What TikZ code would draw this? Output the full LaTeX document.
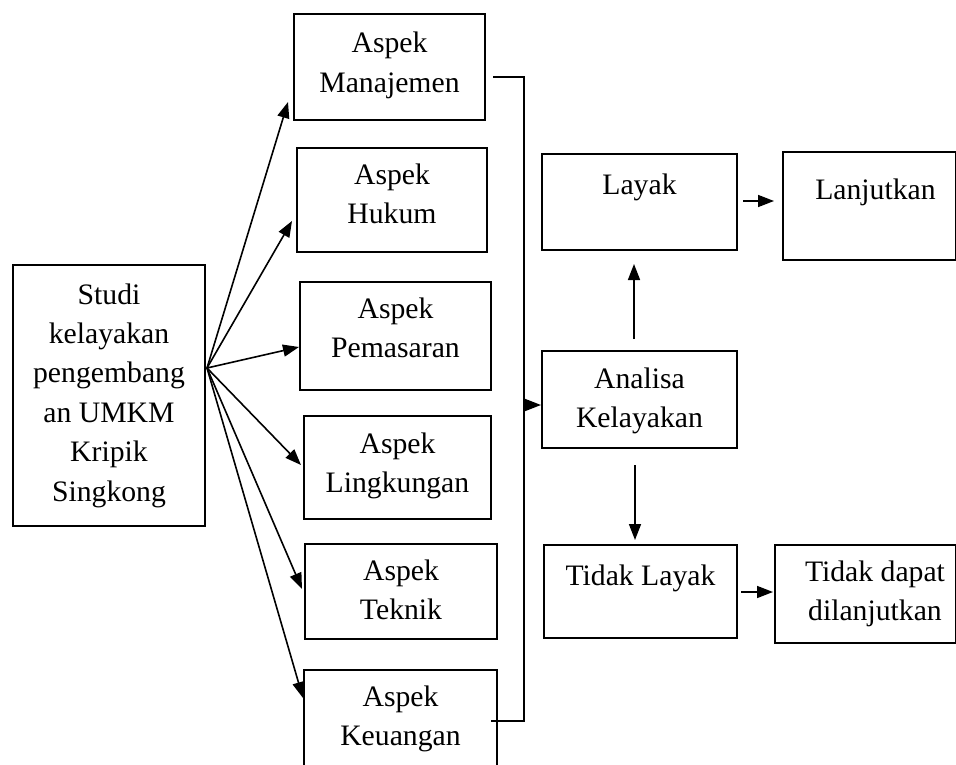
\documentclass[tikz,border=0pt]{standalone}
\usepackage{fontspec}
\setmainfont{Liberation Serif}
\usetikzlibrary{arrows.meta,calc}
\begin{document}
\begin{tikzpicture}[x=1pt,y=-1pt,
  box/.style={draw, line width=2pt, inner sep=0pt, anchor=north west, align=flush center,
    font=\fontsize{29.7}{39.4}\selectfont},
  conn/.style={line width=1.6pt},
  arr/.style={conn, -{Triangle[length=16pt,width=12pt]}},
  ]
\useasboundingbox (0,0) rectangle (956,765);
% boxes
\node[box, text width=192pt, text height=39pt, text depth=222pt] (st) at (12,264)
  {Studi\\kelayakan\\pengembang\\an UMKM\\Kripik\\Singkong};
\node[box, text width=191pt, text height=39pt, text depth=67pt] (man) at (293,13) {Aspek\\Manajemen};
\node[box, text width=190pt, text height=36pt, text depth=68pt] (huk) at (296,147) {Aspek\\Hukum};
\node[box, text width=191pt, text height=36pt, text depth=72pt] (pem) at (299,281) {Aspek\\Pemasaran};
\node[box, text width=187pt, text height=37pt, text depth=66pt] (lin) at (303,415) {Aspek\\Lingkungan};
\node[box, text width=192pt, text height=36pt, text depth=59pt] (tek) at (304,543) {Aspek\\Teknik};
\node[box, text width=193pt, text height=36pt, text depth=65pt] (keu) at (303,669) {Aspek\\Keuangan};
\node[box, text width=195pt, text height=40pt, text depth=56pt] (lay) at (541,153) {Layak};
\node[box, text width=173pt, text height=47pt, text depth=61pt] (lan) at (782,151) {\hspace*{12pt}Lanjutkan};
\node[box, text width=195pt, text height=37pt, text depth=60pt] (ana) at (541,350) {Analisa\\Kelayakan};
\node[box, text width=193pt, text height=40pt, text depth=53pt] (tl) at (543,544) {Tidak Layak};
\node[box, text width=181pt, text height=36pt, text depth=62pt] (td) at (774,544)
  {\hspace*{19pt}Tidak dapat\\\hspace*{19pt}dilanjutkan};
% fan-out arrows
\coordinate (hub) at (207,368);
\draw[arr] (hub) -- ($(man.south west)+(-5,-19)$);
\draw[arr] (hub) -- ($(huk.south west)+(-4,-32)$);
\draw[arr] (hub) -- ($(pem.south west)+(0,-44)$);
\draw[arr] (hub) -- ($(lin.south west)+(-2,-55)$);
\draw[arr] (hub) -- ($(tek.south west)+(-2,-51)$);
\draw[arr] (hub) -- ($(keu.north west)+(0,29)$);
% bracket
\draw[conn] ($(man.east)+(7,10)$) -- ++(31,0) coordinate (bt) |- ($(keu.east)+(-7,0.5)$);
\draw[arr] ($(bt |- ana.west)+(0,5.5)$) -- ($(ana.west)+(0,5.5)$);
% right side
\draw[arr] ($(ana.north)+(-5.5,-11)$) -- ($(lay.south)+(-5.5,13)$);
\draw[arr] ($(ana.south)+(-4.5,16)$) -- ($(tl.north)+(-5.5,-4)$);
\draw[arr] ($(lay.east)+(5,-1)$) -- ($(lay.east -| lan.west)+(-8,-1)$);
\draw[arr] ($(tl.east)+(3,0.5)$) -- ($(tl.east -| td.west)+(-1,0.5)$);
\end{tikzpicture}
\end{document}
